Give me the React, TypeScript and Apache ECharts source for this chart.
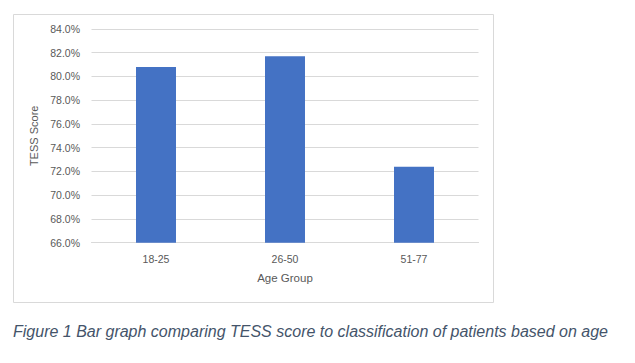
import React, { useEffect, useRef } from "react";
import * as echarts from "echarts";

const categories = ["18-25", "26-50", "51-77"];
const tessScores = [80.8, 81.7, 72.4];
const yMin = 66;
const yMax = 84;
const yStep = 2;
const xAxisTitle = "Age Group";
const yAxisTitle = "TESS Score";
const caption = "Figure 1 Bar graph comparing TESS score to classification of patients based on age";

export default function App() {
  const ref = useRef<HTMLDivElement>(null);
  useEffect(() => {
    if (!ref.current) return;
    const chart = echarts.init(ref.current, undefined, { renderer: "svg" });
    const font = "'Liberation Sans', Arial, sans-serif";
    chart.setOption({
      animation: false,
      backgroundColor: "#ffffff",
      grid: { left: 91.5, right: 156.5, top: 29, bottom: 120.3, containLabel: false },
      xAxis: {
        type: "category",
        data: categories,
        axisLine: { show: true, lineStyle: { color: "#d9d9d9", width: 1 } },
        axisTick: { show: false },
        axisLabel: { color: "#595959", fontSize: 10.5, fontFamily: font, margin: 11 },
        name: xAxisTitle,
        nameLocation: "middle",
        nameGap: 29,
        nameTextStyle: { color: "#595959", fontSize: 11.5, fontFamily: font },
      },
      yAxis: {
        type: "value",
        min: yMin,
        max: yMax,
        interval: yStep,
        axisLine: { show: false },
        axisTick: { show: false },
        splitLine: { lineStyle: { color: "#d9d9d9", width: 1 } },
        axisLabel: {
          color: "#595959",
          fontSize: 10.5,
          fontFamily: font,
          margin: 11.5,
          formatter: (v: number) => v.toFixed(1) + "%",
        },
        name: yAxisTitle,
        nameLocation: "middle",
        nameGap: 47,
        nameRotate: 90,
        nameTextStyle: { color: "#595959", fontSize: 11, fontFamily: font },
      },
      series: [
        {
          type: "bar",
          data: tessScores,
          barWidth: "31%",
          itemStyle: { color: "#4472c4" },
        },
      ],
      graphic: [
        {
          type: "rect",
          shape: { x: 13.5, y: 14.5, width: 480, height: 288 },
          style: { fill: "none", stroke: "#d9d9d9", lineWidth: 1 },
          silent: true,
          z: -1,
        },
        {
          type: "text",
          left: 13,
          top: 323,
          style: {
            text: caption,
            fill: "#44546a",
            font: "italic 16px 'Liberation Sans', Arial, sans-serif",
          },
        },
      ],
    });
    return () => chart.dispose();
  }, []);
  return (
    <div
      ref={ref}
      style={{ position: "absolute", left: 0, top: 0, width: 635, height: 363 }}
    />
  );
}
